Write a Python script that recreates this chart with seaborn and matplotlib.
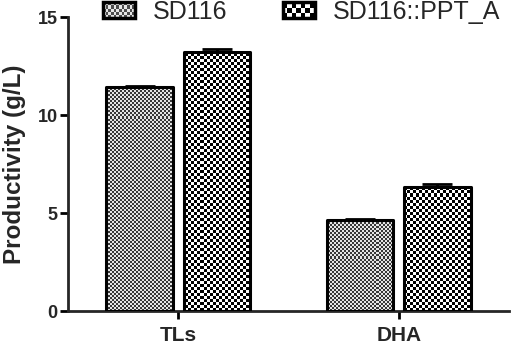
import numpy as np
import pandas as pd
import seaborn as sns
import matplotlib.pyplot as plt
from matplotlib.patches import Rectangle
from matplotlib.legend_handler import HandlerBase

# Productivity data (g/L), mean and SD for each strain
categories = ["TLs", "DHA"]
strains = ["SD116", "SD116::PPT_A"]
sd116 = [11.45, 4.65]
sd116_err = [0.05, 0.05]
ppt_a = [13.2, 6.35]
ppt_a_err = [0.18, 0.12]
y_ticks = [0, 5, 10, 15]

df = pd.DataFrame({
    "target": categories * 2,
    "strain": [strains[0]] * 2 + [strains[1]] * 2,
    "value": sd116 + ppt_a,
    "err": sd116_err + ppt_a_err,
})

sns.set_style("ticks")
plt.rcParams["font.family"] = ["Liberation Sans", "DejaVu Sans"]

W, H = 519, 346
fig = plt.figure(figsize=(W / 100, H / 100), dpi=100)
ax_rect = [68 / W, 1 - 311 / H, (509 - 68) / W, (311 - 17) / H]
ax = fig.add_axes(ax_rect)

sns.barplot(data=df, x="target", y="value", hue="strain", order=categories,
            hue_order=strains, width=0.7, gap=0.14, errorbar=None,
            palette=["white", "white"], edgecolor="black", linewidth=2.2,
            ax=ax, legend=False)

ax.set_xlim(-0.5, 1.5)
ax.set_ylim(0, 15)

# checkerboard textures (fine grey for SD116, coarse black/white for PPT_A)
textures = [
    dict(size=2, dark=(0.22, 0.22, 0.22), light=(0.9, 0.9, 0.9)),
    dict(size=3, dark=(0.0, 0.0, 0.0), light=(1.0, 1.0, 1.0)),
]
px_w = int(round(ax_rect[2] * W))
px_h = int(round(ax_rect[3] * H))


def checker_image(size, dark, light):
    yy, xx = np.mgrid[0:px_h, 0:px_w]
    mask = ((yy // size + xx // size) % 2).astype(bool)
    img = np.empty((px_h, px_w, 3))
    img[mask] = dark
    img[~mask] = light
    return img


errs = [sd116_err, ppt_a_err]
bar_groups = list(ax.containers)
for hi, container in enumerate(bar_groups):
    img = checker_image(**textures[hi])
    for bi, bar in enumerate(container):
        bar.set_facecolor("none")
        bar.set_zorder(3)
        bar.set_joinstyle("round")
        im = ax.imshow(img, extent=[-0.5, 1.5, 0, 15], origin="upper",
                       aspect="auto", interpolation="nearest", zorder=2)
        im.set_clip_path(bar)
        xc = bar.get_x() + bar.get_width() / 2
        h = bar.get_height()
        ax.errorbar([xc], [h], yerr=[[0], [errs[hi][bi]]], fmt="none",
                    ecolor="black", elinewidth=2, capsize=11, capthick=2,
                    zorder=4)

ax.set_xlim(-0.5, 1.5)
ax.set_ylim(0, 15)
ax.set_yticks(y_ticks)
ax.set_xlabel("")
ax.set_ylabel("Productivity (g/L)", fontsize=17.5, fontweight="bold")
ax.yaxis.set_label_coords(-0.096, 0.5)

sns.despine(ax=ax)
for side in ["left", "bottom"]:
    ax.spines[side].set_linewidth(2)
ax.tick_params(axis="both", width=2, length=5.5, color="black")
ax.tick_params(axis="y", labelsize=13, pad=2)
ax.tick_params(axis="x", labelsize=15, pad=5)
for lab in ax.get_yticklabels() + ax.get_xticklabels():
    lab.set_fontweight("bold")


class CheckerHandler(HandlerBase):
    def __init__(self, nx, ny, dark, light):
        super().__init__()
        self.nx, self.ny, self.dark, self.light = nx, ny, dark, light

    def create_artists(self, legend, orig_handle, xdescent, ydescent,
                       width, height, fontsize, trans):
        x0, y0 = -xdescent, -ydescent
        arts = [Rectangle((x0, y0), width, height, facecolor=self.light,
                          edgecolor="none", transform=trans)]
        dx, dy = width / self.nx, height / self.ny
        for i in range(self.nx):
            for j in range(self.ny):
                if (i + j) % 2 == 0:
                    arts.append(Rectangle((x0 + i * dx, y0 + j * dy), dx, dy,
                                          facecolor=self.dark, edgecolor="none",
                                          transform=trans))
        arts.append(Rectangle((x0, y0), width, height, facecolor="none",
                              edgecolor="black", linewidth=2.5,
                              transform=trans))
        return arts


h1 = Rectangle((0, 0), 1, 1)
h2 = Rectangle((0, 0), 1, 1)
fig.legend([h1, h2], strains, loc="center", bbox_to_anchor=(301.5 / W, 1 - 12 / H),
           ncol=2, frameon=False, fontsize=18, handlelength=1.28,
           handleheight=0.6, handletextpad=0.72, columnspacing=2.2,
           borderpad=0, borderaxespad=0,
           handler_map={h1: CheckerHandler(12, 5, (0.3, 0.3, 0.3), (0.9, 0.9, 0.9)),
                        h2: CheckerHandler(7, 3, (0, 0, 0), (1, 1, 1))})

fig.savefig("out.png", dpi=100)
